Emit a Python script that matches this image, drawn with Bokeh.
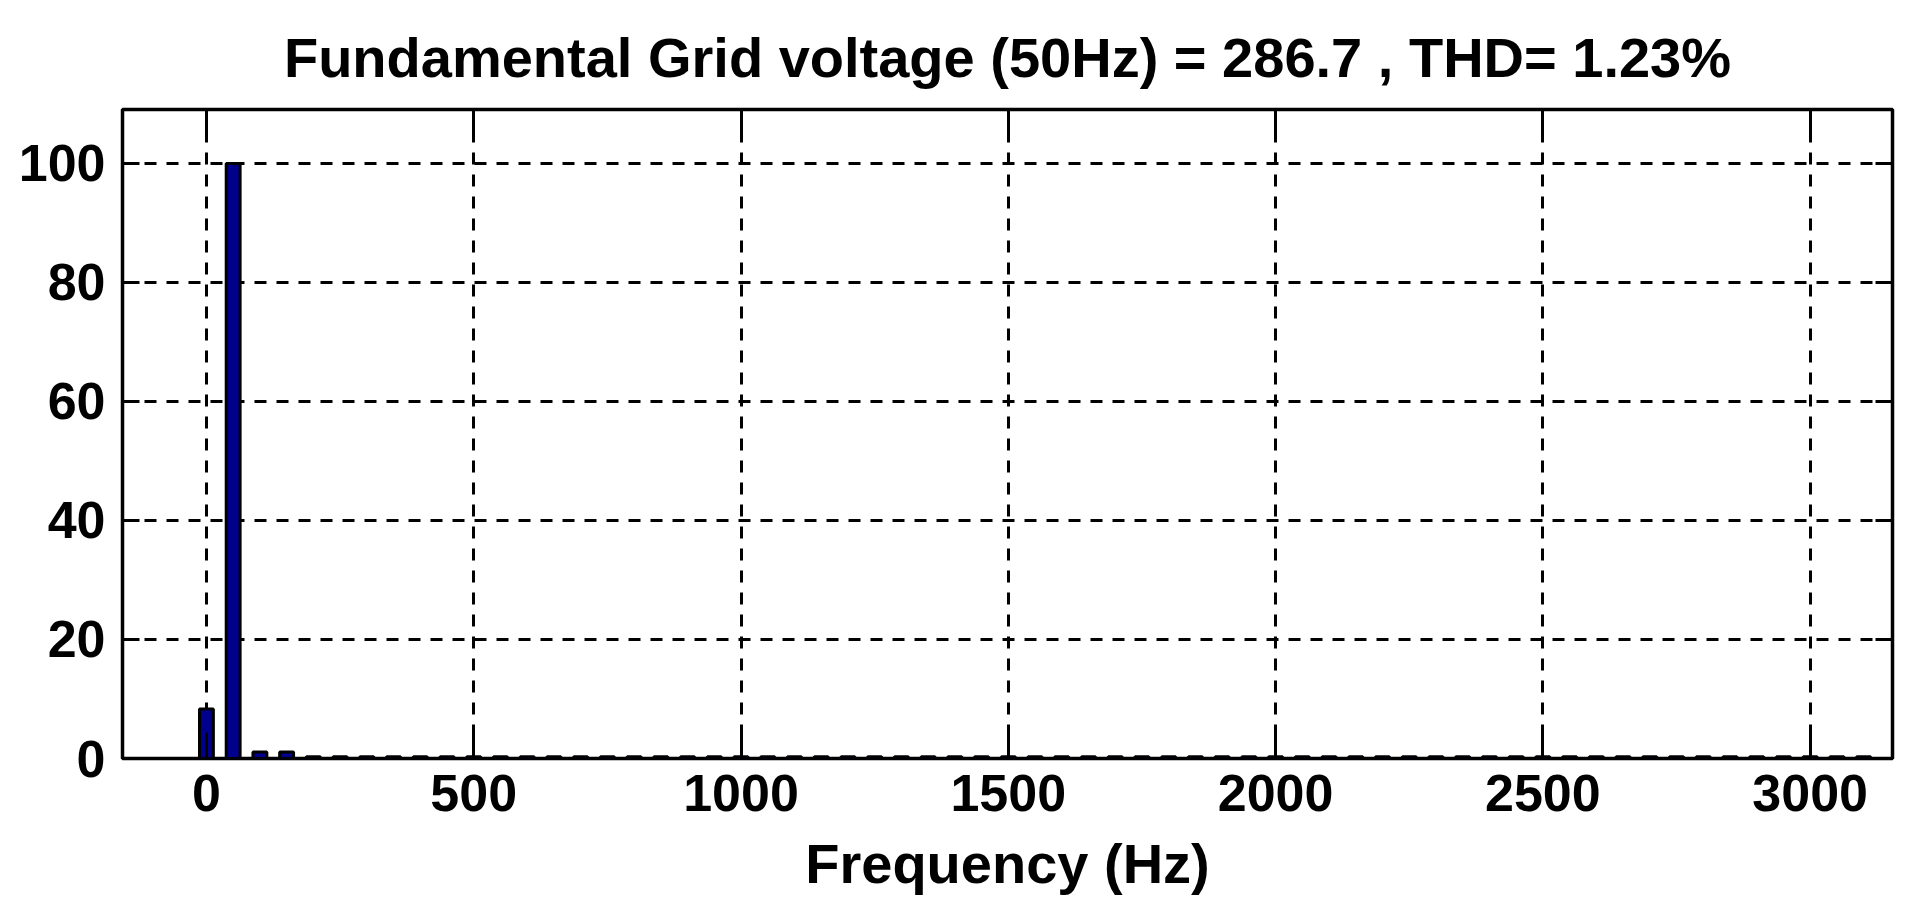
from bokeh.plotting import figure
from bokeh.models import Range1d, LinearAxis, FixedTicker
from bokeh.embed import file_html
from bokeh.resources import INLINE

# Harmonic spectrum (% of fundamental)
freqs = [0, 50, 100, 150] + list(range(200, 3101, 50))
mags = [8.3, 100.0, 1.1, 1.1] + [0.3] * len(range(200, 3101, 50))

x_ticks = [0, 500, 1000, 1500, 2000, 2500, 3000]
y_ticks = [0, 20, 40, 60, 80, 100]

title_text = "Fundamental Grid voltage (50Hz) = 286.7 , THD= 1.23%"
x_label = "Frequency (Hz)"

FONT = "Liberation Sans"

p = figure(width=1899, height=903,
           x_range=Range1d(-157, 3154), y_range=Range1d(0, 109.07),
           output_backend="svg", toolbar_location=None,
           min_border_left=122, min_border_right=7,
           min_border_top=109, min_border_bottom=145,
           x_axis_label=x_label)

p.title.text = title_text
p.title.align = "center"
p.title.text_font = FONT
p.title.text_font_style = "bold"
p.title.text_font_size = "56px"
p.title.text_color = "black"
p.title.standoff = 42

p.vbar(x=freqs, top=mags, width=26, bottom=0,
       fill_color="#00008C", line_color="black", line_width=3)

p.outline_line_color = "black"
p.outline_line_width = 3.5
p.outline_line_alpha = 1.0
p.background_fill_color = "white"
p.border_fill_color = "white"

for g in (p.xgrid, p.ygrid):
    g.grid_line_color = "black"
    g.grid_line_width = 3
    g.grid_line_dash = "12 10"

p.xgrid.ticker = FixedTicker(ticks=x_ticks)
p.ygrid.ticker = FixedTicker(ticks=y_ticks)


def style_axis(ax, ticks, tick_in, show_labels):
    ax.ticker = FixedTicker(ticks=ticks)
    ax.axis_line_color = None
    ax.major_tick_in = tick_in
    ax.major_tick_out = 0
    ax.major_tick_line_width = 3
    ax.major_tick_line_color = "black"
    ax.minor_tick_line_color = None
    ax.major_label_text_font = FONT
    ax.major_label_text_font_style = "bold"
    if show_labels:
        ax.major_label_text_font_size = "52px"
        ax.major_label_text_color = "black"
    else:
        # mirror axis (box on): ticks only, labels not drawn
        ax.major_label_text_font_size = "1px"
        ax.major_label_text_color = None
        ax.major_label_standoff = 0


xa = p.xaxis[0]
style_axis(xa, x_ticks, 26, True)
xa.major_label_standoff = 16
xa.axis_label_text_font = FONT
xa.axis_label_text_font_style = "bold"
xa.axis_label_text_font_size = "56px"
xa.axis_label_text_color = "black"
xa.axis_label_standoff = 18

ya = p.yaxis[0]
style_axis(ya, y_ticks, 17, True)
ya.major_label_standoff = 17

top_ax = LinearAxis()
style_axis(top_ax, x_ticks, 26, False)
p.add_layout(top_ax, "above")

right_ax = LinearAxis()
style_axis(right_ax, y_ticks, 17, False)
p.add_layout(right_ax, "right")

open("out.html", "w").write(file_html(p, INLINE))
